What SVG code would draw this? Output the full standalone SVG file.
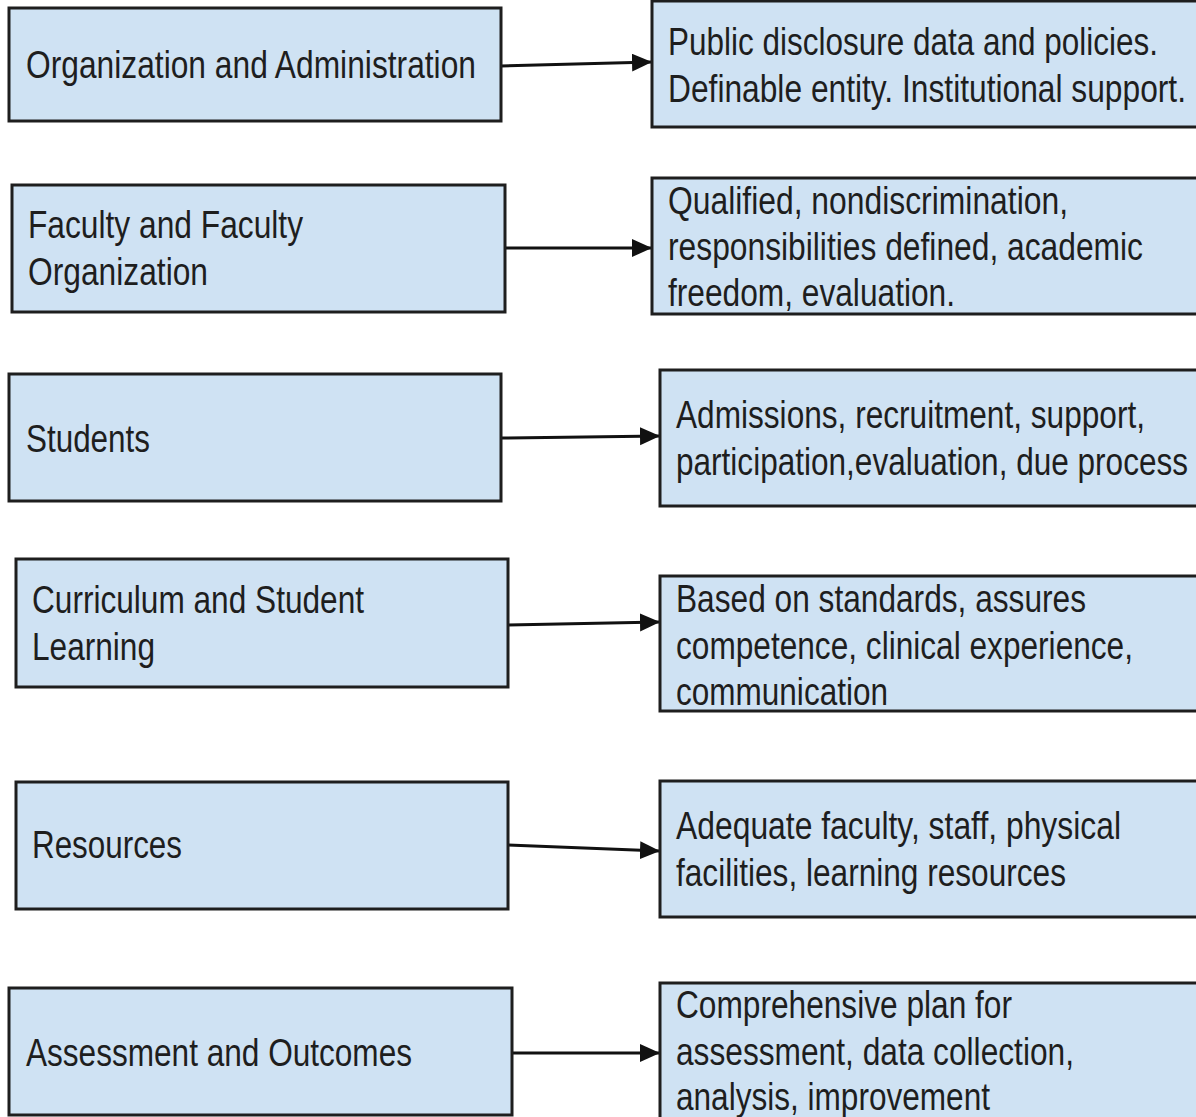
<svg xmlns="http://www.w3.org/2000/svg" width="1196" height="1117" viewBox="0 0 1196 1117">
<style>
.fill{fill:#cfe2f3;stroke:none}
.edge{fill:none;stroke:#1e1e1e;stroke-width:3}
text{font-family:"Liberation Sans",Arial,sans-serif;font-size:38px;fill:#1e1e1e}
.conn{stroke:#111;stroke-width:3;fill:none;marker-end:url(#ah)}
</style>
<defs>
<marker id="ah" markerUnits="userSpaceOnUse" markerWidth="22" markerHeight="20" refX="20" refY="9" orient="auto">
<path d="M0,0 L20,9 L0,18 Z" fill="#111"/>
</marker>
</defs>
<rect width="1196" height="1117" fill="#ffffff"/>

<g id="connectors">
<line class="conn" x1="501" y1="66" x2="652" y2="62"/>
<line class="conn" x1="505" y1="248" x2="652" y2="248"/>
<line class="conn" x1="501" y1="438" x2="660" y2="436"/>
<line class="conn" x1="508" y1="625" x2="660" y2="622"/>
<line class="conn" x1="508" y1="845" x2="660" y2="851"/>
<line class="conn" x1="512" y1="1053" x2="660" y2="1053"/>
</g>

<g id="n1">
<rect class="fill" x="9" y="8" width="492" height="113"/>
<text x="26" y="78" textLength="450" lengthAdjust="spacingAndGlyphs">Organization and Administration</text>
<rect class="edge" x="9" y="8" width="492" height="113"/>
</g>
<g id="n1r">
<rect class="fill" x="652" y="1" width="560" height="126"/>
<text x="668" y="55" textLength="490" lengthAdjust="spacingAndGlyphs">Public disclosure data and policies.</text>
<text x="668" y="102" textLength="518" lengthAdjust="spacingAndGlyphs">Definable entity. Institutional support.</text>
<rect class="edge" x="652" y="1" width="560" height="126"/>
</g>

<g id="n2">
<rect class="fill" x="12" y="185" width="493" height="127"/>
<text x="28" y="238" textLength="275" lengthAdjust="spacingAndGlyphs">Faculty and Faculty</text>
<text x="28" y="285" textLength="180" lengthAdjust="spacingAndGlyphs">Organization</text>
<rect class="edge" x="12" y="185" width="493" height="127"/>
</g>
<g id="n2r">
<rect class="fill" x="652" y="178" width="560" height="136"/>
<text x="668" y="214" textLength="400" lengthAdjust="spacingAndGlyphs">Qualified, nondiscrimination,</text>
<text x="668" y="260" textLength="475" lengthAdjust="spacingAndGlyphs">responsibilities defined, academic</text>
<text x="668" y="306" textLength="287" lengthAdjust="spacingAndGlyphs">freedom, evaluation.</text>
<rect class="edge" x="652" y="178" width="560" height="136"/>
</g>

<g id="n3">
<rect class="fill" x="9" y="374" width="492" height="127"/>
<text x="26" y="452" textLength="124" lengthAdjust="spacingAndGlyphs">Students</text>
<rect class="edge" x="9" y="374" width="492" height="127"/>
</g>
<g id="n3r">
<rect class="fill" x="660" y="370" width="552" height="136"/>
<text x="676" y="428" textLength="469" lengthAdjust="spacingAndGlyphs">Admissions, recruitment, support,</text>
<text x="676" y="475" textLength="512" lengthAdjust="spacingAndGlyphs">participation,evaluation, due process</text>
<rect class="edge" x="660" y="370" width="552" height="136"/>
</g>

<g id="n4">
<rect class="fill" x="16" y="559" width="492" height="128"/>
<text x="32" y="613" textLength="332" lengthAdjust="spacingAndGlyphs">Curriculum and Student</text>
<text x="32" y="660" textLength="123" lengthAdjust="spacingAndGlyphs">Learning</text>
<rect class="edge" x="16" y="559" width="492" height="128"/>
</g>
<g id="n4r">
<rect class="fill" x="660" y="576" width="552" height="135"/>
<text x="676" y="612" textLength="410" lengthAdjust="spacingAndGlyphs">Based on standards, assures</text>
<text x="676" y="659" textLength="457" lengthAdjust="spacingAndGlyphs">competence, clinical experience,</text>
<text x="676" y="705" textLength="212" lengthAdjust="spacingAndGlyphs">communication</text>
<rect class="edge" x="660" y="576" width="552" height="135"/>
</g>

<g id="n5">
<rect class="fill" x="16" y="782" width="492" height="127"/>
<text x="32" y="858" textLength="150" lengthAdjust="spacingAndGlyphs">Resources</text>
<rect class="edge" x="16" y="782" width="492" height="127"/>
</g>
<g id="n5r">
<rect class="fill" x="660" y="781" width="552" height="136"/>
<text x="676" y="839" textLength="445" lengthAdjust="spacingAndGlyphs">Adequate faculty, staff, physical</text>
<text x="676" y="886" textLength="390" lengthAdjust="spacingAndGlyphs">facilities, learning resources</text>
<rect class="edge" x="660" y="781" width="552" height="136"/>
</g>

<g id="n6">
<rect class="fill" x="9" y="988" width="503" height="127"/>
<text x="26" y="1066" textLength="386" lengthAdjust="spacingAndGlyphs">Assessment and Outcomes</text>
<rect class="edge" x="9" y="988" width="503" height="127"/>
</g>
<g id="n6r">
<rect class="fill" x="660" y="983" width="552" height="150"/>
<text x="676" y="1018" textLength="336" lengthAdjust="spacingAndGlyphs">Comprehensive plan for</text>
<text x="676" y="1065" textLength="398" lengthAdjust="spacingAndGlyphs">assessment, data collection,</text>
<text x="676" y="1110" textLength="314" lengthAdjust="spacingAndGlyphs">analysis, improvement</text>
<rect class="edge" x="660" y="983" width="552" height="150"/>
</g>
</svg>
